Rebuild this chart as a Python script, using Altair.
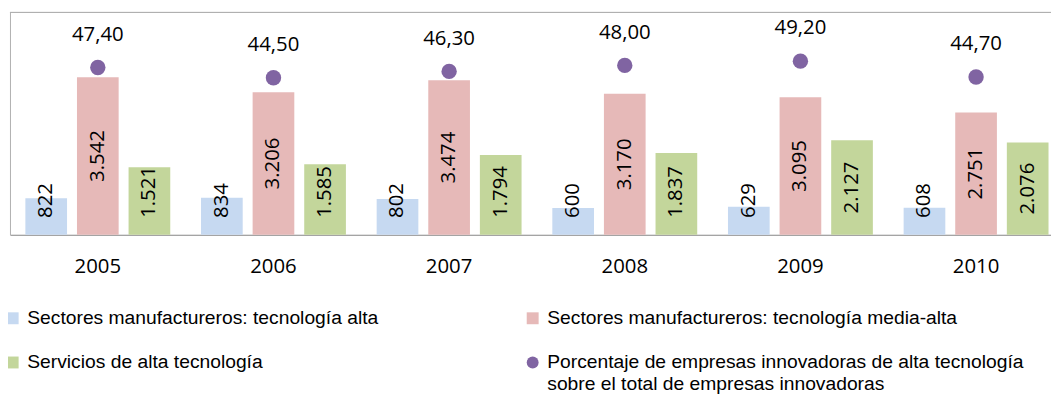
import altair as alt
import pandas as pd

years = ["2005", "2006", "2007", "2008", "2009", "2010"]
alta = [822, 834, 802, 600, 629, 608]
media_alta = [3542, 3206, 3474, 3170, 3095, 2751]
servicios = [1521, 1585, 1794, 1837, 2127, 2076]
porcentaje = [47.40, 44.50, 46.30, 48.00, 49.20, 44.70]

names = [
    "Sectores manufactureros: tecnología alta",
    "Sectores manufactureros: tecnología media-alta",
    "Servicios de alta tecnología",
    "Porcentaje de empresas innovadoras de alta tecnología sobre el total de empresas innovadoras",
]
colors = ["#c6d9f1", "#e6b9b8", "#c3d69b", "#8064a2"]
shapes = ["square", "square", "square", "circle"]
# legend fills column by column: put entries in that order
legend_order = [0, 2, 1, 3]
leg_names = [names[i] for i in legend_order]
leg_colors = [colors[i] for i in legend_order]
leg_shapes = [shapes[i] for i in legend_order]

FONT = "Open Sans"
FS = 20.5
H = 224
YMAX = 5000

rows = []
for serie, vals in zip(names[:3], [alta, media_alta, servicios]):
    for y, v in zip(years, vals):
        lbl = f"{v:,}".replace(",", ".")
        text_px = 11.7 * sum(c.isdigit() for c in lbl) + 5.5 * lbl.count(".")
        min_center = (17 + text_px / 2) * YMAX / H
        rows.append({"year": y, "serie": serie, "value": v, "label": lbl,
                     "ly": max(v / 2, min_center)})
bars_df = pd.DataFrame(rows)

pct_df = pd.DataFrame({
    "year": years,
    "serie": names[3],
    "pct": porcentaje,
    "label": [f"{p:.2f}".replace(".", ",") for p in porcentaje],
})

xscale = alt.Scale(domain=years, range=[0, 1062], paddingInner=0, paddingOuter=0)
xoff = alt.Scale(domain=names[:3], paddingInner=0.1923, paddingOuter=0.298)
cscale = alt.Scale(domain=leg_names, range=leg_colors)
yscale = alt.Scale(domain=[0, YMAX], nice=False, zero=True)
y2scale = alt.Scale(domain=[0, 63], nice=False, zero=True)

x_enc = alt.X("year:N", scale=xscale, sort=years,
              axis=alt.Axis(title=None, labelAngle=0, ticks=False, tickSize=0,
                            labelPadding=22, labelFont=FONT, labelFontSize=FS,
                            labelColor="#000000", domainColor="#868686",
                            domainWidth=1.2, grid=False))

bars = alt.Chart(bars_df).mark_bar().encode(
    x=x_enc,
    xOffset=alt.XOffset("serie:N", scale=xoff, sort=names[:3]),
    y=alt.Y("value:Q", scale=yscale,
            axis=alt.Axis(title=None, labels=False, ticks=False, grid=False,
                          domainColor="#b0b0b0")),
    color=alt.Color("serie:N", scale=cscale, sort=leg_names,
                    legend=alt.Legend(
                        title=None, orient="none", legendX=-7, legendY=298,
                        columns=2, columnPadding=146, rowPadding=24,
                        labelFont="Liberation Sans", labelFontSize=19.4,
                        labelColor="#000000", labelLimit=0, labelOffset=5,
                        symbolSize=144, symbolStrokeWidth=0, padding=0,
                        labelExpr="datum.label == '" + names[3] + "' ? ['Porcentaje de empresas innovadoras de alta tecnología', 'sobre el total de empresas innovadoras'] : datum.label",
                    )),
)

bar_text = alt.Chart(bars_df).mark_text(
    angle=270, align="center", baseline="middle", font=FONT, fontSize=FS,
    color="#000000").encode(
    x=alt.X("year:N", scale=xscale, sort=years),
    xOffset=alt.XOffset("serie:N", scale=xoff, sort=names[:3]),
    y=alt.Y("ly:Q", scale=yscale),
    text="label:N",
)

dots = alt.Chart(pct_df).mark_point(filled=True, opacity=1, size=240).encode(
    x=alt.X("year:N", scale=xscale, sort=years),
    y=alt.Y("pct:Q", scale=y2scale, axis=None),
    color=alt.Color("serie:N", scale=cscale, sort=leg_names),
    shape=alt.Shape("serie:N", scale=alt.Scale(domain=leg_names, range=leg_shapes),
                    sort=leg_names),
)

dot_text = alt.Chart(pct_df).mark_text(
    dy=-33, font=FONT, fontSize=FS, color="#000000", baseline="middle").encode(
    x=alt.X("year:N", scale=xscale, sort=years),
    y=alt.Y("pct:Q", scale=y2scale, axis=None),
    text="label:N",
)

top_border = alt.Chart(pct_df).mark_rule(color="#b0b0b0", strokeWidth=1).encode(
    x=alt.value(0), x2=alt.value(1049), y=alt.value(0))

chart = alt.layer(
    alt.layer(bars, bar_text),
    alt.layer(dots, dot_text),
    top_border,
).resolve_scale(y="independent").properties(
    width=1049, height=H,
    padding={"left": 2, "top": 3, "right": 0, "bottom": 166},
    autosize=alt.AutoSizeParams(type="none"),
).configure_view(stroke=None)

chart.save("out.html", embed_options={"renderer": "svg", "actions": False})
